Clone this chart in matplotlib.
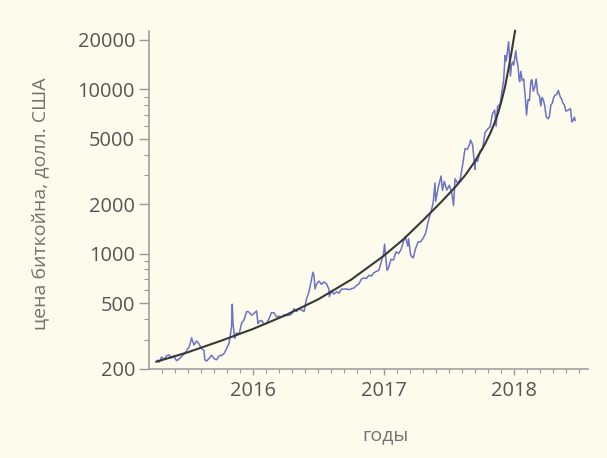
import numpy as np
import pandas as pd
import matplotlib
matplotlib.use("Agg")
import matplotlib.pyplot as plt
from matplotlib.ticker import FixedLocator, NullFormatter, MultipleLocator

# Bitcoin price, USD (dates and closing prices)
price_dates = [
    "2015-04-08", "2015-04-14", "2015-04-20", "2015-04-27", "2015-05-04", "2015-05-11",
    "2015-05-18", "2015-05-25", "2015-06-01", "2015-06-08", "2015-06-15", "2015-06-22",
    "2015-06-29", "2015-07-06", "2015-07-11", "2015-07-13", "2015-07-20", "2015-07-27",
    "2015-08-03", "2015-08-10", "2015-08-17", "2015-08-19", "2015-08-24", "2015-08-31",
    "2015-09-07", "2015-09-14", "2015-09-21", "2015-09-28", "2015-10-05", "2015-10-12",
    "2015-10-19", "2015-10-26", "2015-11-02", "2015-11-04", "2015-11-06", "2015-11-11",
    "2015-11-16", "2015-11-23", "2015-11-30", "2015-12-07", "2015-12-14", "2015-12-21",
    "2015-12-28",
    "2016-01-04", "2016-01-11", "2016-01-15", "2016-01-18", "2016-01-25", "2016-02-01",
    "2016-02-08", "2016-02-15", "2016-02-22", "2016-02-29", "2016-03-07", "2016-03-14",
    "2016-03-21", "2016-03-28", "2016-04-04", "2016-04-11", "2016-04-18", "2016-04-25",
    "2016-05-02", "2016-05-09", "2016-05-16", "2016-05-23", "2016-05-30", "2016-06-06",
    "2016-06-13", "2016-06-17", "2016-06-20", "2016-06-23", "2016-06-27", "2016-07-04",
    "2016-07-11", "2016-07-18", "2016-07-25", "2016-08-01", "2016-08-02", "2016-08-08",
    "2016-08-15", "2016-08-22", "2016-08-29", "2016-09-05", "2016-09-12", "2016-09-19",
    "2016-09-26", "2016-10-03", "2016-10-10", "2016-10-17", "2016-10-24", "2016-10-31",
    "2016-11-07", "2016-11-14", "2016-11-21", "2016-11-28", "2016-12-05", "2016-12-12",
    "2016-12-19", "2016-12-26",
    "2017-01-01", "2017-01-04", "2017-01-08", "2017-01-11", "2017-01-15", "2017-01-22",
    "2017-01-29", "2017-02-05", "2017-02-12", "2017-02-19", "2017-02-26", "2017-03-03",
    "2017-03-10", "2017-03-12", "2017-03-18", "2017-03-25", "2017-04-01", "2017-04-08",
    "2017-04-15", "2017-04-22", "2017-04-29", "2017-05-06", "2017-05-13", "2017-05-20",
    "2017-05-25", "2017-05-27", "2017-06-03", "2017-06-11", "2017-06-15", "2017-06-20",
    "2017-06-27", "2017-07-04", "2017-07-11", "2017-07-16", "2017-07-20", "2017-07-27",
    "2017-08-03", "2017-08-10", "2017-08-17", "2017-08-24", "2017-08-31", "2017-09-01",
    "2017-09-07", "2017-09-14", "2017-09-15", "2017-09-21", "2017-09-28", "2017-10-05",
    "2017-10-12", "2017-10-19", "2017-10-26", "2017-11-02", "2017-11-08", "2017-11-12",
    "2017-11-16", "2017-11-23", "2017-11-29", "2017-12-03", "2017-12-07", "2017-12-10",
    "2017-12-13", "2017-12-17", "2017-12-22", "2017-12-25", "2017-12-28", "2017-12-31",
    "2018-01-02", "2018-01-06", "2018-01-09", "2018-01-12", "2018-01-16", "2018-01-17",
    "2018-01-20", "2018-01-24", "2018-01-28", "2018-02-01", "2018-02-05", "2018-02-09",
    "2018-02-13", "2018-02-17", "2018-02-20", "2018-02-24", "2018-02-28", "2018-03-04",
    "2018-03-08", "2018-03-13", "2018-03-17", "2018-03-20", "2018-03-24", "2018-03-28",
    "2018-04-01", "2018-04-06", "2018-04-10", "2018-04-14", "2018-04-18", "2018-04-22",
    "2018-04-26", "2018-04-30", "2018-05-05", "2018-05-10", "2018-05-14", "2018-05-18",
    "2018-05-22", "2018-05-26", "2018-05-30", "2018-06-04", "2018-06-08", "2018-06-12",
    "2018-06-16", "2018-06-19", "2018-06-21",
]
price_usd = [
    224, 219, 235, 227, 239, 242,
    232, 238, 223, 228, 237, 244,
    257, 270, 293, 307, 278, 294,
    282, 264, 257, 226, 222, 230,
    241, 230, 226, 239, 240, 247,
    264, 285, 360, 492, 374, 305,
    330, 323, 377, 396, 444, 441,
    422,
    433, 448, 375, 387, 392, 372,
    376, 402, 438, 436, 412, 416,
    411, 424, 420, 422, 428, 462,
    444, 460, 454, 444, 530, 585,
    700, 770, 735, 610, 650, 680,
    650, 672, 655, 606, 547, 591,
    567, 585, 574, 608, 607, 610,
    602, 612, 617, 638, 654, 700,
    710, 705, 737, 730, 765, 778,
    792, 897,
    998, 1140, 908, 790, 820, 922,
    915, 1025, 1000, 1055, 1190, 1270,
    1110, 1230, 975, 940, 1080, 1180,
    1180, 1240, 1335, 1570, 1770, 2040,
    2680, 2080, 2520, 2960, 2420, 2750,
    2430, 2600, 2330, 1960, 2850, 2680,
    2800, 3430, 4340, 4310, 4700, 4900,
    4600, 3250, 3690, 3630, 4200, 4300,
    5440, 5700, 5900, 7100, 7450, 5950,
    7850, 8100, 9900, 11250, 16000, 14800,
    16500, 19400, 12000, 14000, 14600, 14000,
    14900, 17100, 14900, 13800, 11200, 11100,
    12800, 11300, 11500, 9200, 6950, 8600,
    8500, 11100, 11400, 9700, 10300, 11500,
    9400, 9100, 7900, 8900, 8600, 7900,
    6800, 6600, 6800, 8000, 8200, 8900,
    9200, 9250, 9800, 9000, 8700, 8200,
    8000, 7350, 7400, 7500, 7600, 6300,
    6500, 6750, 6450,
]

# Fitted growth curve (decimal year, USD)
fit_years = [2015.26, 2015.50, 2015.75, 2016.00, 2016.25, 2016.50, 2016.75, 2017.00,
             2017.15, 2017.30, 2017.45, 2017.55, 2017.625, 2017.70, 2017.777, 2017.82,
             2017.854, 2017.88, 2017.905, 2017.93, 2017.956, 2017.98, 2018.008]
fit_usd = [220, 251, 294, 348, 422, 527, 692, 966,
           1216, 1585, 2089, 2541, 2985, 3631, 4624, 5433,
           6310, 7244, 8511, 10230, 13030, 16600, 22590]

year_ticks = [2016, 2017, 2018]
price_ticks = [200, 500, 1000, 2000, 5000, 10000, 20000]

bg = "#fcfbec"
axis_grey = "#9a9a98"
text_grey = "#555555"
label_grey = "#737371"
font = ["Open Sans", "DejaVu Sans"]

d = pd.to_datetime(price_dates)
days_in_year = np.where(d.is_leap_year, 366.0, 365.0)
price_years = d.year + (d.dayofyear - 1) / days_in_year

fig = plt.figure(figsize=(6.07, 4.58), dpi=100, facecolor=bg)
ax = fig.add_axes([0.2455, 0.1954, 0.7232, 0.7366], facecolor=bg)

ax.plot(price_years, price_usd, color="#5e63c6", lw=1.1, alpha=0.9, zorder=2)
ax.plot(fit_years, fit_usd, color="#383838", lw=1.5, zorder=3, clip_on=False)

ax.set_yscale("log")
ax.set_ylim(200, 22500)
ax.set_xlim(2015.203, 2018.567)

ax.yaxis.set_major_locator(FixedLocator(price_ticks))
ax.set_yticklabels([str(v) for v in price_ticks])
minor_y = [m * 10 ** e for e in (2, 3, 4) for m in range(1, 10)]
minor_y = [v for v in minor_y if 200 <= v <= 22500 and v not in price_ticks]
ax.yaxis.set_minor_locator(FixedLocator(minor_y))
ax.yaxis.set_minor_formatter(NullFormatter())

ax.xaxis.set_major_locator(FixedLocator(year_ticks))
ax.set_xticklabels([str(y) for y in year_ticks])
ax.xaxis.set_minor_locator(MultipleLocator(0.1))

for side in ("top", "right"):
    ax.spines[side].set_visible(False)
for side in ("left", "bottom"):
    ax.spines[side].set_color(axis_grey)
    ax.spines[side].set_linewidth(1.1)

ax.tick_params(axis="y", which="major", direction="out", length=7, width=1.0,
               color=axis_grey, labelcolor=text_grey, labelsize=14.4, pad=3)
ax.tick_params(axis="y", which="minor", direction="out", length=3.5, width=0.8,
               color=axis_grey)
ax.tick_params(axis="x", which="major", direction="out", length=4, width=1.0,
               color=axis_grey, labelcolor=text_grey, labelsize=14.4, pad=5)
ax.tick_params(axis="x", which="minor", direction="out", length=3, width=0.8,
               color=axis_grey)
for lab in ax.get_xticklabels() + ax.get_yticklabels():
    lab.set_family(font)

fig.text(40 / 607, 1 - 204 / 458, "цена биткойна, долл. США", rotation=90,
         ha="center", va="center", fontsize=14, color=label_grey, family=font)
fig.text(385 / 607, 1 - 435 / 458, "годы", ha="center", va="center",
         fontsize=14, color=label_grey, family=font)

fig.savefig("out.png", dpi=100, facecolor=bg)
